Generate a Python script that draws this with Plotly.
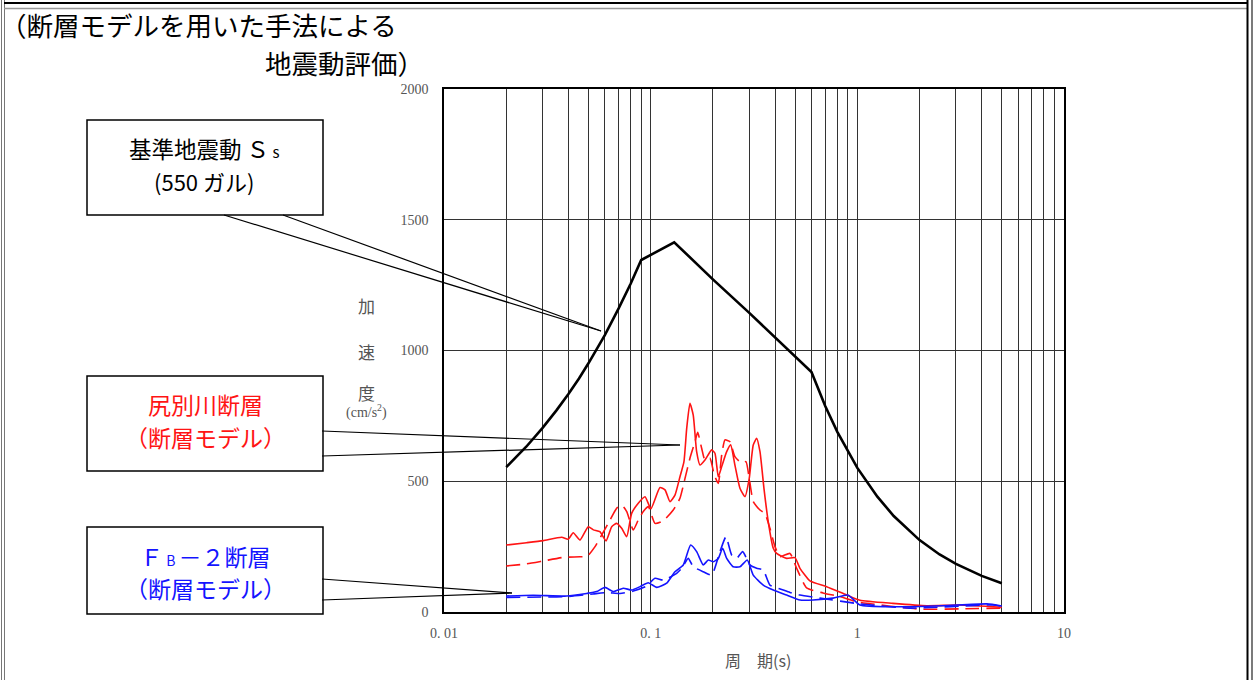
import plotly.graph_objects as go

# ---------------- data ----------------
ss_period = [0.02, 0.025, 0.03, 0.035, 0.04, 0.045, 0.05, 0.06, 0.07, 0.08, 0.09,
             0.13, 0.2, 0.3, 0.6, 0.7, 0.8, 1.0, 1.25, 1.5, 2.0, 2.5, 3.0, 4.0, 5.0]
ss_accel = [554, 632, 704, 771, 834, 893, 951, 1059, 1161, 1255, 1346,
            1414, 1272, 1144, 918, 787, 689, 551, 441, 367, 275, 220, 184, 138, 110]

red_solid_period = [0.020, 0.0251, 0.0302, 0.0371, 0.0399, 0.0422, 0.0455, 0.0499, 0.0528, 0.0568,
                    0.0608, 0.0648, 0.0685, 0.0724, 0.0766, 0.0809, 0.0871, 0.0939, 0.1003, 0.1109,
                    0.1173, 0.124, 0.1311, 0.1386, 0.1449, 0.1494, 0.1549, 0.1607, 0.1669, 0.1732,
                    0.1831, 0.1973, 0.2047, 0.2124, 0.2206, 0.2333, 0.2438, 0.2556, 0.2704, 0.2859,
                    0.2999, 0.3136, 0.3257, 0.338, 0.3533, 0.3707, 0.392, 0.4071, 0.455, 0.499,
                    0.5277, 0.5898, 0.7104, 0.8875, 1.029, 1.487, 2.171, 3.136, 5.0]
red_solid_accel = [256, 265, 273, 286, 278, 303, 275, 326, 314, 307,
                   272, 326, 339, 320, 288, 377, 416, 441, 395, 476,
                   467, 422, 447, 517, 575, 702, 798, 753, 613, 562,
                   581, 620, 607, 517, 556, 613, 639, 562, 473, 441,
                   511, 639, 664, 613, 473, 345, 244, 224, 205, 208,
                   167, 119, 97, 65, 45, 33, 24, 27, 18]

red_dash_period = [0.020, 0.0251, 0.0302, 0.0378, 0.0455, 0.0494, 0.0538, 0.0579, 0.0636, 0.0685,
                   0.0724, 0.0766, 0.0824, 0.0871, 0.0921, 0.0974, 0.1049, 0.1151, 0.1286, 0.1386,
                   0.1466, 0.1549, 0.1638, 0.1688, 0.1765, 0.1831, 0.1936, 0.2031, 0.2124, 0.2206,
                   0.2288, 0.2419, 0.2556, 0.2756, 0.2891, 0.2999, 0.3136, 0.338, 0.3573, 0.3777,
                   0.3995, 0.4222, 0.4721, 0.5087, 0.5685, 0.6817, 0.8236, 0.9954, 2.009, 3.136, 5.0]
red_dash_accel = [176, 184, 195, 209, 211, 214, 250, 294, 352, 397,
                  409, 384, 314, 352, 384, 403, 339, 349, 390, 435,
                  511, 588, 651, 687, 626, 581, 588, 524, 492, 600,
                  658, 651, 594, 569, 575, 511, 422, 390, 377, 320,
                  250, 212, 224, 167, 92, 73, 59, 39, 11, 12, 15]

blue_solid_period = [0.020, 0.027, 0.0392, 0.049, 0.0548, 0.0601, 0.0659, 0.0737, 0.0809, 0.0888,
                     0.0974, 0.1069, 0.1195, 0.1311, 0.1438, 0.1561, 0.1669, 0.1797, 0.19, 0.2009,
                     0.2124, 0.223, 0.2333, 0.2509, 0.2704, 0.2934, 0.3136, 0.3506, 0.392, 0.455,
                     0.5277, 0.6118, 0.7621, 0.9006, 1.029, 1.487, 2.595, 4.236, 5.0]
blue_solid_accel = [61, 64, 61, 71, 78, 94, 78, 91, 84, 97,
                    112, 94, 110, 154, 180, 256, 231, 180, 199, 192,
                    205, 244, 205, 173, 173, 199, 141, 103, 84, 65,
                    46, 46, 53, 65, 27, 20, 24, 31, 23]

blue_dash_period = [0.020, 0.0392, 0.0526, 0.0612, 0.071, 0.0824, 0.0956, 0.1049, 0.1151, 0.1336,
                    0.1413, 0.152, 0.1607, 0.1797, 0.1973, 0.2164, 0.2314, 0.2465, 0.2606, 0.2787,
                    0.3023, 0.3257, 0.3506, 0.3777, 0.4381, 0.4721, 0.5277, 0.6593, 1.029, 1.797,
                    4.529, 5.0]
blue_dash_accel = [56, 59, 69, 74, 71, 80, 99, 129, 122, 148,
                   167, 205, 173, 154, 141, 231, 288, 218, 205, 231,
                   180, 167, 161, 103, 84, 75, 65, 53, 31, 15,
                   27, 22]

x_decades = [0.01, 0.1, 1, 10]
x_decade_labels = ["0. 01", "0. 1", "1", "10"]
x_minor_multipliers = [2, 3, 4, 5, 6, 7, 8, 9]
y_ticks = [0, 500, 1000, 1500, 2000]
y_tick_labels = ["0", "500", "1000", "1500", "2000"]

# ---------------- layout geometry ----------------
W, H = 1258, 680
PL, PR, PT, PB = 444, 1064, 89, 612  # plot area in pixels


def fx(X):
    return (X - PL) / (PR - PL)


def fy(Y):
    return (PB - Y) / (PB - PT)


RED = "#ff1414"
BLUE = "#1414ff"
JP = "Noto Sans CJK JP"
SERIF = "Liberation Serif"
GRID = "#333333"

fig = go.Figure()

fig.add_trace(go.Scatter(x=red_dash_period, y=red_dash_accel, mode="lines",
                         line=dict(color=RED, width=1.6, dash="14px,7px", shape="spline", smoothing=0.5)))
fig.add_trace(go.Scatter(x=red_solid_period, y=red_solid_accel, mode="lines",
                         line=dict(color=RED, width=1.6, shape="spline", smoothing=0.5)))
fig.add_trace(go.Scatter(x=blue_dash_period, y=blue_dash_accel, mode="lines",
                         line=dict(color=BLUE, width=1.6, dash="14px,7px", shape="spline", smoothing=0.5)))
fig.add_trace(go.Scatter(x=blue_solid_period, y=blue_solid_accel, mode="lines",
                         line=dict(color=BLUE, width=1.6, shape="spline", smoothing=0.5)))
fig.add_trace(go.Scatter(x=ss_period, y=ss_accel, mode="lines",
                         line=dict(color="black", width=2.6)))

# minor gridline positions (2..9 within each decade)
x_minor_vals = [d * m for d in x_decades[:-1] for m in x_minor_multipliers]

shapes = []


def seg(x0, y0, x1, y1, color="black", width=1.2):
    shapes.append(dict(type="line", xref="paper", yref="paper",
                       x0=fx(x0), y0=fy(y0), x1=fx(x1), y1=fy(y1),
                       line=dict(color=color, width=width), layer="above"))


def box(x0, y0, x1, y1):
    shapes.append(dict(type="rect", xref="paper", yref="paper",
                       x0=fx(x0), y0=fy(y0), x1=fx(x1), y1=fy(y1),
                       fillcolor="white", line=dict(color="black", width=1.5), layer="above"))


# outer page frame
seg(1.5, 0, 1.5, 680, "#777", 1)
seg(4.5, 0, 4.5, 680, "#777", 1)
seg(4, 3, 1248, 3, "black", 2)
seg(4, 8.5, 1247, 8.5, "#999", 1.5)
seg(1247.5, 0, 1247.5, 680, "black", 2)
seg(1252, 0, 1252, 680, "#222", 1.2)

# callout boxes and pointer wedges
box(87, 120, 323, 215)
seg(224, 215, 601, 331)
seg(283, 215, 601, 331)

box(87, 376, 323, 471)
seg(322, 431, 680, 445)
seg(322, 456, 680, 445)

box(87, 527, 323, 614)
seg(322, 579, 512, 593)
seg(322, 600, 512, 593)

annotations = []


def text(X, Y, s, size, color="black", family=JP, anchor="center"):
    annotations.append(dict(x=fx(X), y=fy(Y), xref="paper", yref="paper", text=s,
                            showarrow=False, xanchor=anchor, yanchor="middle",
                            font=dict(family=family, size=size, color=color)))


# heading
text(-2, 25, "（断層モデルを用いた手法による", 26.5, anchor="left")
text(263, 62, "地震動評価）", 26.5, anchor="left")

# box texts (small index letters sit on the baseline, as in the reference)
text(204, 148, "基準地震動 Ｓ<span style='font-size:15px'> s</span>", 22.5)
text(204, 181, "(550 ガル)", 22)
text(205, 404, "尻別川断層", 23, RED)
text(205, 437, "（断層モデル）", 23, RED)
text(205, 556, "Ｆ<span style='font-size:14px'> B </span>－２断層", 23, BLUE)
text(205, 588, "（断層モデル）", 23, BLUE)

# axis titles
text(366, 305, "加", 17, "#555")
text(366, 351, "速", 17, "#555")
text(366, 393, "度", 17, "#555")
text(366, 411, "(cm/s<sup>2</sup>)", 14, "#555", SERIF)
text(758, 660, "周　期(s)", 16, "#555")

fig.update_layout(
    width=W, height=H, autosize=False,
    margin=dict(l=PL, r=W - PR, t=PT, b=H - PB, pad=0),
    paper_bgcolor="white", plot_bgcolor="white",
    showlegend=False,
    shapes=shapes, annotations=annotations,
    xaxis=dict(type="log", range=[-2, 1], tickmode="array",
               tickvals=x_decades, ticktext=x_decade_labels,
               showgrid=True, gridcolor=GRID, gridwidth=1.2,
               minor=dict(tickmode="array", tickvals=x_minor_vals, showgrid=True,
                          gridcolor=GRID, gridwidth=1.2, ticks=""),
               showline=True, linecolor="black", linewidth=1.5, mirror=True,
               ticks="outside", ticklen=7, tickcolor="rgba(0,0,0,0)",
               tickfont=dict(family=SERIF, size=14, color="#555"),
               zeroline=False, fixedrange=True),
    yaxis=dict(range=[0, 2000], tickmode="array", tickvals=y_ticks, ticktext=y_tick_labels,
               showgrid=True, gridcolor=GRID, gridwidth=1.2,
               showline=True, linecolor="black", linewidth=1.5, mirror=True,
               ticks="outside", ticklen=11, tickcolor="rgba(0,0,0,0)",
               tickfont=dict(family=SERIF, size=14, color="#555"),
               zeroline=False, fixedrange=True),
)

fig.write_html("out.html", include_plotlyjs=True, config={"displayModeBar": False},
               post_script="document.body.style.margin='0px';document.body.style.overflow='hidden';")
